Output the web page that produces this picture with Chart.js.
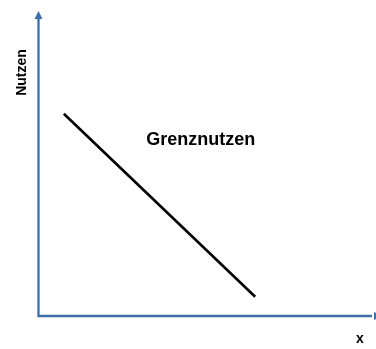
<!DOCTYPE html>
<html>
<head>
<meta charset="utf-8">
<script src="https://cdn.jsdelivr.net/npm/chart.js@4"></script>
<style>
  html, body { margin: 0; padding: 0; background: #fff; }
  #wrap { width: 376px; height: 349px; }
</style>
</head>
<body>
<div id="wrap"><canvas id="chart"></canvas></div>
<script>
// Grenznutzen: falling marginal utility
const mengeX = [0.75, 6.42];
const nutzenY = [6.63, 0.63];
const kurveName = "Grenznutzen";
const achseY = "Nutzen";
const achseX = "x";

const axisColor = "rgb(62, 110, 168)";

// draws both axes with arrows plus the text labels
const axesPlugin = {
    id: "axes",
    afterDatasetsDraw(chart) {
        const { ctx, chartArea } = chart;
        const left = chartArea.left;
        const bottom = chartArea.bottom;
        ctx.save();
        ctx.strokeStyle = axisColor;
        ctx.fillStyle = axisColor;
        ctx.lineWidth = 2.3;
        ctx.beginPath();
        ctx.moveTo(left, bottom + 1);
        ctx.lineTo(left, chartArea.top + 6);
        ctx.moveTo(left - 1, bottom);
        ctx.lineTo(chartArea.right - 4, bottom);
        ctx.stroke();

        // arrow heads
        ctx.beginPath();
        ctx.moveTo(left, chartArea.top);
        ctx.lineTo(left - 4, chartArea.top + 8);
        ctx.lineTo(left + 4, chartArea.top + 8);
        ctx.closePath();
        ctx.fill();
        ctx.beginPath();
        ctx.moveTo(chartArea.right + 6, bottom);
        ctx.lineTo(chartArea.right - 2, bottom - 4);
        ctx.lineTo(chartArea.right - 2, bottom + 4);
        ctx.closePath();
        ctx.fill();

        ctx.fillStyle = "#000";
        ctx.textAlign = "center";
        ctx.textBaseline = "middle";

        ctx.font = "bold 18px 'Liberation Sans', Arial, sans-serif";
        const xs = chart.scales.x, ys = chart.scales.y;
        ctx.fillText(kurveName, xs.getPixelForValue(4.81), ys.getPixelForValue(5.77));

        ctx.font = "bold 14px 'Liberation Sans', Arial, sans-serif";
        ctx.fillText(achseX, 360, 339);

        ctx.translate(22, 72.5);
        ctx.rotate(-Math.PI / 2);
        ctx.font = "bold 14px 'Liberation Sans', Arial, sans-serif";
        ctx.fillText(achseY, 0, 0);
        ctx.restore();
    }
};

new Chart(document.querySelector("#chart").getContext("2d"), {
    type: "line",
    data: {
        datasets: [{
            label: kurveName,
            data: mengeX.map((x, i) => ({ x: x, y: nutzenY[i] })),
            borderColor: "#000",
            borderWidth: 2.6,
            pointRadius: 0,
            fill: false,
        }],
    },
    options: {
        responsive: true,
        maintainAspectRatio: false,
        animation: false,
        layout: { padding: { left: 38.5, top: 11, right: 0, bottom: 33 } },
        plugins: { legend: { display: false }, tooltip: { enabled: false } },
        scales: {
            x: { type: "linear", min: 0, max: 10, display: false },
            y: { type: "linear", min: 0, max: 10, display: false },
        },
    },
    plugins: [axesPlugin],
});
</script>
</body>
</html>
